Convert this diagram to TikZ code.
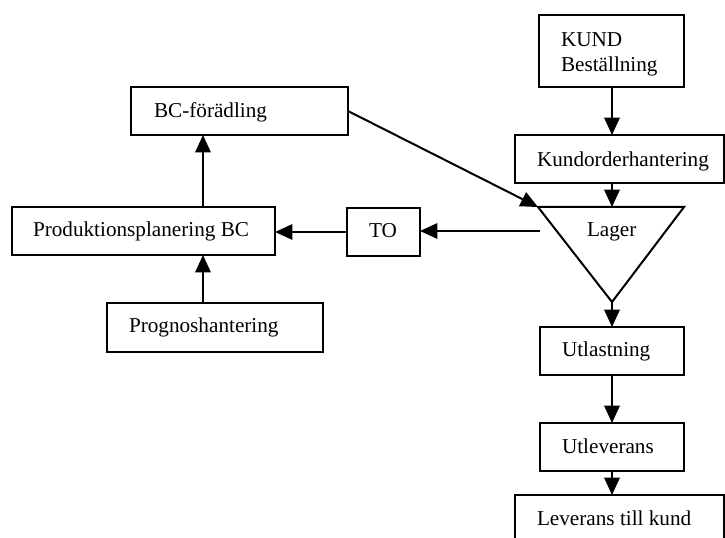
\documentclass[tikz,border=0pt]{standalone}
\usepackage{fontspec}
\setmainfont{Liberation Serif}
\usetikzlibrary{arrows.meta,calc}
% rectangular box given by its corners (x1,y1) and (x2,y2)
\newcommand\boxat[5]{%
  \node[box, minimum width={(#4-#2)*0.75pt}, minimum height={(#5-#3)*0.75pt}]
    (#1) at ({(#2+#4)/2},{(#3+#5)/2}) {};}
\begin{document}
\begin{tikzpicture}[x=0.75pt,y=-0.75pt,
  line width=1.5pt,
  box/.style={draw, rectangle, inner sep=0pt, outer sep=0pt, line width=1.5pt},
  lbl/.style={anchor=base west, inner sep=0pt, font=\fontsize{15.9}{19}\selectfont},
  arr/.style={-{Triangle[length=13pt,width=11.5pt]}, line width=1.5pt}]
\useasboundingbox (0,0) rectangle (725,538);
\clip (0,0) rectangle (725,538);

% right column: order flow
\boxat{kund}{539}{15}{684}{87}
\node[lbl] (tkund1) at (560,47) {KUND};
\node[lbl] (tkund2) at (560,72) {Beställning};

\boxat{ko}{515}{135}{724}{183}
\node[lbl] (tko) at (536,167) {Kundorderhantering};

% stock triangle
\coordinate (lagerTL) at (538,207);
\coordinate (lagerTR) at (684,207);
\coordinate (lagerB)  at (612,302);
\coordinate (lagerT)  at (612,207);
\coordinate (lagerL)  at (540,231);
\draw[line join=miter] (lagerTL) -- (lagerTR) -- (lagerB) -- cycle;
\node[lbl] (tlager) at (586,237) {Lager};

\boxat{utl}{540}{327}{684}{375}
\node[lbl] (tutl) at (561,357) {Utlastning};

\boxat{utlev}{540}{423}{684}{471}
\node[lbl] (tutlev) at (561,453) {Utleverans};

\boxat{lev}{515}{495}{724}{580}
\node[lbl] (tlev) at (536,525) {Leverans till kund};

% left side: planning
\boxat{bc}{131}{87}{348}{135}
\node[lbl] (tbc) at (153,118) {BC-förädling};

\boxat{prod}{12}{207}{275}{255}
\node[lbl] (tprod) at (32,237) {Produktionsplanering BC};

\boxat{to}{347}{208}{420}{256}
\node[lbl] (tto) at (368,238) {TO};

\boxat{prog}{107}{303}{323}{352}
\node[lbl] (tprog) at (128,333) {Prognoshantering};

% vertical lines of the two flows
\coordinate (vx) at (203,0);
\coordinate (vr) at (612,0);

% connectors
\draw[arr] (kund.south -| vr) -- (ko.north -| vr);
\draw[arr] (ko.south -| vr) -- (lagerT);
\draw[arr] (lagerB) -- (utl.north -| vr);
\draw[arr] (utl.south -| vr) -- (utlev.north -| vr);
\draw[arr] (utlev.south -| vr) -- (lev.north -| vr);
\draw[arr] (lagerL) -- (to.east |- lagerL);
\draw[arr] (to.west) -- (prod.east |- to.west);
\draw[arr] (prod.north -| vx) -- (bc.south -| vx);
\draw[arr] (prog.north -| vx) -- (prod.south -| vx);
\draw[arr] (bc.east) -- (lagerTL);
\end{tikzpicture}
\end{document}
